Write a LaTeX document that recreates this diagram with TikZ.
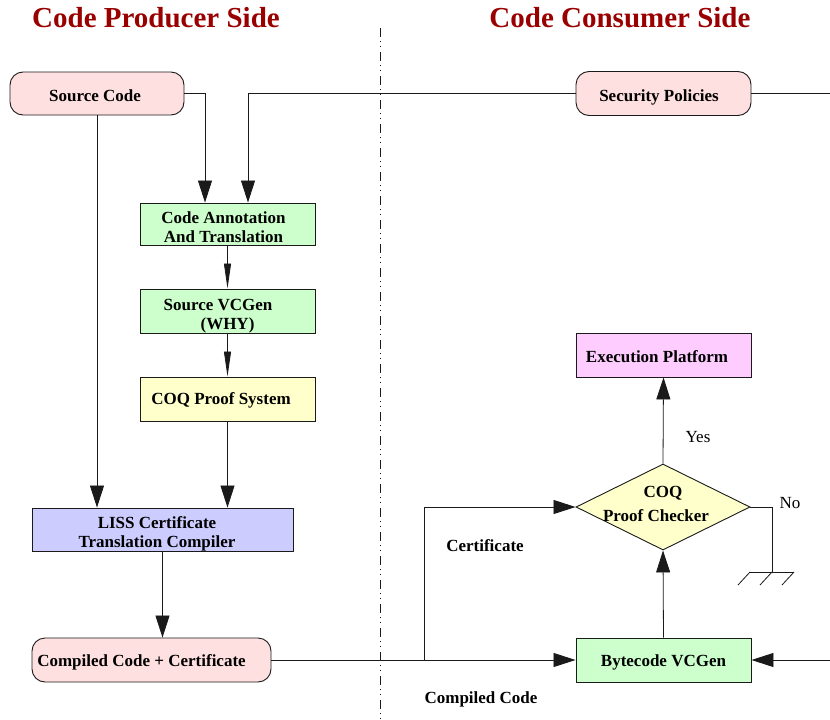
\documentclass[tikz,border=0pt]{standalone}
\usepackage{fontspec}
\setmainfont{Liberation Serif}
\usetikzlibrary{arrows.meta,shapes.geometric}
\definecolor{titlered}{HTML}{990000}
\definecolor{rpink}{HTML}{FFE0E0}
\definecolor{bgreen}{HTML}{CCFFCC}
\definecolor{byellow}{HTML}{FFFFCC}
\definecolor{blav}{HTML}{CCCCFF}
\definecolor{bmag}{HTML}{FFCCFF}
\definecolor{ln}{HTML}{1A1A1A}
\newcommand{\lowtext}[2]{\raisebox{-#1}[\height][\depth]{#2}}
\begin{document}
\begin{tikzpicture}[x=1pt,y=-1pt,
  every node/.style={font=\fontsize{17}{19}\selectfont\bfseries, inner sep=0pt},
  box/.style={draw=ln, line width=0.9pt, minimum width=175pt, minimum height=44pt},
  rbox/.style={box, rounded corners=13pt, fill=rpink},
  conn/.style={draw=ln, line width=0.8pt},
  big/.style={conn, -{Triangle[length=22pt,width=14pt]}},
  small/.style={conn, -{Triangle[length=25pt,width=7pt]}},
  title/.style={font=\fontsize{29}{32}\selectfont\bfseries, text=titlered},
  plain/.style={font=\fontsize{17}{19}\selectfont}
]
\useasboundingbox (0,0) rectangle (830,720);

% titles
\node[title] (t1) at (156,18) {Code Producer Side};
\node[title] (t2) at (620,18) {Code Consumer Side};

% divider
\coordinate (dtop) at (380,28);
\coordinate (dbot) at (380,720);
\draw[line width=0.9pt, draw=ln, dash pattern=on 9pt off 4pt on 1pt off 3.5pt on 1pt off 5.5pt] (dtop) -- (dbot);

% producer side
\node[rbox, minimum width=174pt, minimum height=43pt] (src) at (97,93.5) {\lowtext{2.5pt}{Source Code}\hspace*{4pt}};
\node[box, fill=bgreen, minimum height=42pt] (annot) at (227.5,224)
  {\lowtext{5pt}{\begin{tabular}{@{}c@{}}Code Annotation\\And Translation\end{tabular}}\hspace*{8pt}};
\node[box, fill=bgreen] (vcg) at (227.5,311)
  {\lowtext{5pt}{\begin{tabular}{@{}c@{}}Source VCGen\hspace*{19pt}\\(WHY)\end{tabular}}};
\node[box, fill=byellow] (coq) at (227.5,399) {\lowtext{1.5pt}{COQ Proof System}\hspace*{13pt}};
\node[box, fill=blav, minimum width=261pt, minimum height=43pt] (liss) at (162.5,529.5)
  {\lowtext{5pt}{\begin{tabular}{@{}c@{}}LISS Certificate\\Translation Compiler\end{tabular}}\hspace*{11pt}};
\node[rbox, minimum width=239pt] (comp) at (151.5,660) {\lowtext{2pt}{Compiled Code + Certificate}\hspace*{20pt}};

% consumer side
\node[rbox] (sec) at (663.5,93.5) {\lowtext{3.5pt}{Security Policies}\hspace*{9pt}};
\node[box, fill=bmag] (exec) at (663.5,355) {\lowtext{1.5pt}{Execution Platform}\hspace*{13pt}};
\node[diamond, draw=ln, line width=0.9pt, fill=byellow, minimum width=174pt, minimum height=86pt] (dia) at (663,507)
  {\raisebox{-3pt}[0pt][0pt]{\makebox[0pt]{\begin{tabular}{@{}c@{}}COQ\\[5pt]Proof Checker\hspace*{14pt}\end{tabular}}}};
\node[box, fill=bgreen] (byte) at (663.5,660) {\lowtext{2pt}{Bytecode VCGen}};

% labels
\node[plain] (yes) at (698,437) {Yes};
\node[plain] (no) at (790,503) {No};
\node (lcert) at (485,546) {Certificate};
\node (lcomp) at (481,699) {Compiled Code};

% connectors
\draw[big] (src.east) -| ([xshift=-22.5pt]annot.north);
\draw[big] (sec.west) -| ([xshift=20.5pt]annot.north);
\coordinate (secout) at (830,93.5);
\draw[conn] (sec.east) -- (secout);
\draw[big] (src.south) -- (src.south |- liss.north);
\draw[small] (annot.south) -- (vcg.north);
\draw[small] (vcg.south) -- (coq.north);
\draw[big] (coq.south) -- (coq.south |- liss.north);
\draw[big] (liss.south) -- (liss.south |- comp.north);
\draw[big] (comp.east) -- (byte.west);
\coordinate (br) at (424,660);
\draw[big] (br) |- (dia.west);
\coordinate (bytein) at (830,660);
\draw[big] (bytein) -- (byte.east);
\draw[big] (byte.north) -- (dia.south);
\draw[big] (dia.north) -- (exec.south);

% "No" branch to ground
\coordinate (g0) at (772,507);
\coordinate (g1) at (772,572);
\draw[conn] (dia.east) -- (g0) -- (g1);
\draw[conn] (750,572) -- (794,572);
\draw[conn] (750,572) -- (738,585);
\draw[conn] (772,572) -- (760,585);
\draw[conn] (794,572) -- (782,585);
\end{tikzpicture}
\end{document}
